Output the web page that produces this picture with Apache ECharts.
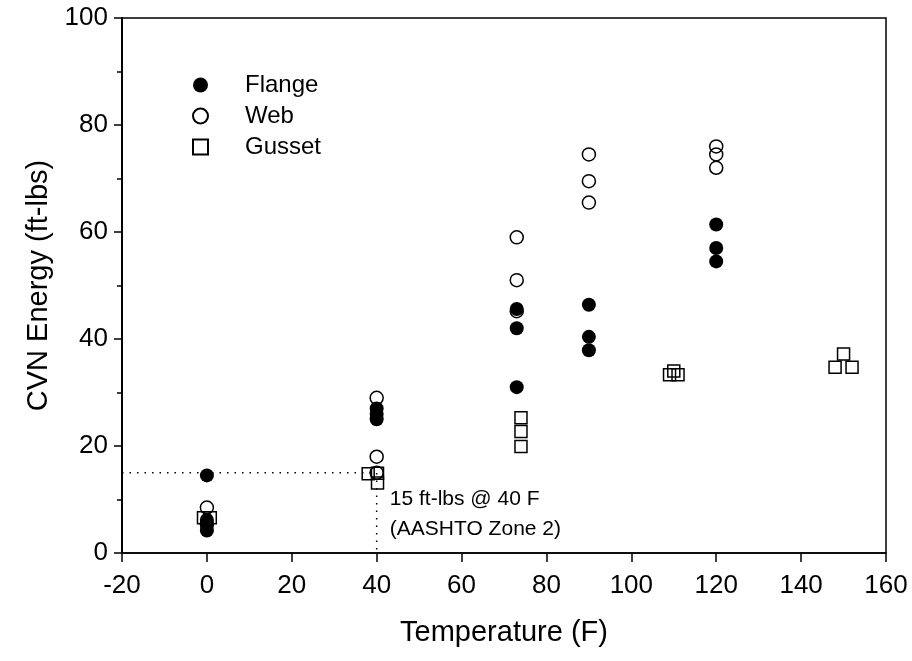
<!DOCTYPE html>
<html>
<head>
<meta charset="utf-8">
<script src="https://cdn.jsdelivr.net/npm/echarts@6/dist/echarts.min.js"></script>
<style>
  html, body { margin: 0; padding: 0; background: #fff; }
  #chart { width: 912px; height: 661px; }
</style>
</head>
<body>
<div id="chart"></div>
<script>
// values: [temperature F, CVN ft-lbs]
const flange = [[0,14.5],[0,6.2],[0,5.2],[0,4.2],[40,27],[40,26],[40,25],
  [73,45.6],[73,42],[73,31],[90,46.4],[90,40.4],[90,37.9],[120,61.4],[120,57],[120,54.5]];
const web = [[0,8.5],[0,5.5],[40,29],[40,18],[40,15],[73,59],[73,51],[73,45.2],
  [90,74.5],[90,69.5],[90,65.5],[120,76],[120,74.5],[120,72]];
const gusset = [[-0.8,6.6],[0.8,6.6],[38,14.8],[40.2,14.9],[40.2,13.1],
  [74,25.3],[74,22.7],[74,19.9],[110,34],[109,33.3],[111,33.3],
  [150,37.2],[148,34.7],[152,34.7]];
// 15 ft-lbs @ 40 F guide
const guide = [[-20,15],[40,15],[40,0]];
const noteLines = ['15 ft-lbs @ 40 F', '(AASHTO Zone 2)'];

const font = 'Liberation Sans, Arial, sans-serif';
const chart = echarts.init(document.getElementById('chart'));

const open = { color: 'rgba(0,0,0,0)', borderColor: '#000', borderWidth: 1.5, opacity: 1 };

chart.setOption({
  animation: false,
  textStyle: { fontFamily: font, color: '#000' },
  grid: { left: 122, right: 26, top: 18, bottom: 108, show: true,
    borderColor: '#000', borderWidth: 1.5, backgroundColor: 'transparent' },
  legend: {
    orient: 'vertical', left: 187, top: 68, itemGap: 7,
    itemWidth: 15, itemHeight: 15,
    textStyle: { fontSize: 24, fontFamily: font, color: '#000', padding: [0, 0, 0, 32] },
    data: ['Flange', 'Web', 'Gusset']
  },
  xAxis: {
    type: 'value', min: -20, max: 160, interval: 20,
    name: 'Temperature (F)', nameLocation: 'middle', nameGap: 65,
    nameTextStyle: { fontSize: 29, fontFamily: font, color: '#000' },
    axisLine: { onZero: false, lineStyle: { color: '#000', width: 1.5 } },
    axisTick: { inside: false, length: 9, lineStyle: { color: '#000', width: 1.5 } },
    axisLabel: { fontSize: 26, color: '#000', fontFamily: font, margin: 20 },
    splitLine: { show: false }
  },
  yAxis: {
    type: 'value', min: 0, max: 100, interval: 20,
    name: 'CVN Energy (ft-lbs)', nameLocation: 'middle', nameGap: 64,
    nameTextStyle: { fontSize: 29, fontFamily: font, color: '#000' },
    axisLine: { onZero: false, lineStyle: { color: '#000', width: 2 } },
    axisTick: { inside: false, length: 8, lineStyle: { color: '#000', width: 1.5 } },
    minorTick: { show: true, splitNumber: 2, length: 5, lineStyle: { color: '#000', width: 1.5 } },
    axisLabel: { fontSize: 26, color: '#000', fontFamily: font, margin: 14 },
    splitLine: { show: false }
  },
  series: [
    { name: 'guide', type: 'line', data: guide, symbol: 'none', silent: true,
      lineStyle: { color: '#000', width: 1.5, type: [1.5, 6] } },
    { name: 'Flange', type: 'scatter', data: flange, symbol: 'circle', symbolSize: 14,
      itemStyle: { color: '#000', opacity: 1 } },
    { name: 'Web', type: 'scatter', data: web, symbol: 'circle', symbolSize: 13,
      itemStyle: open },
    { name: 'Gusset', type: 'scatter', data: gusset, symbol: 'rect', symbolSize: 12,
      itemStyle: open }
  ]
});

// annotation beside the guide line
const p1 = chart.convertToPixel({ gridIndex: 0 }, [43.1, 10.1]);
const p2 = chart.convertToPixel({ gridIndex: 0 }, [43.1, 4.5]);
chart.setOption({
  graphic: [p1, p2].map((p, i) => ({
    type: 'text', x: p[0], y: p[1],
    style: { text: noteLines[i], font: '21px ' + font, fill: '#000', textVerticalAlign: 'middle' }
  }))
});
</script>
</body>
</html>
